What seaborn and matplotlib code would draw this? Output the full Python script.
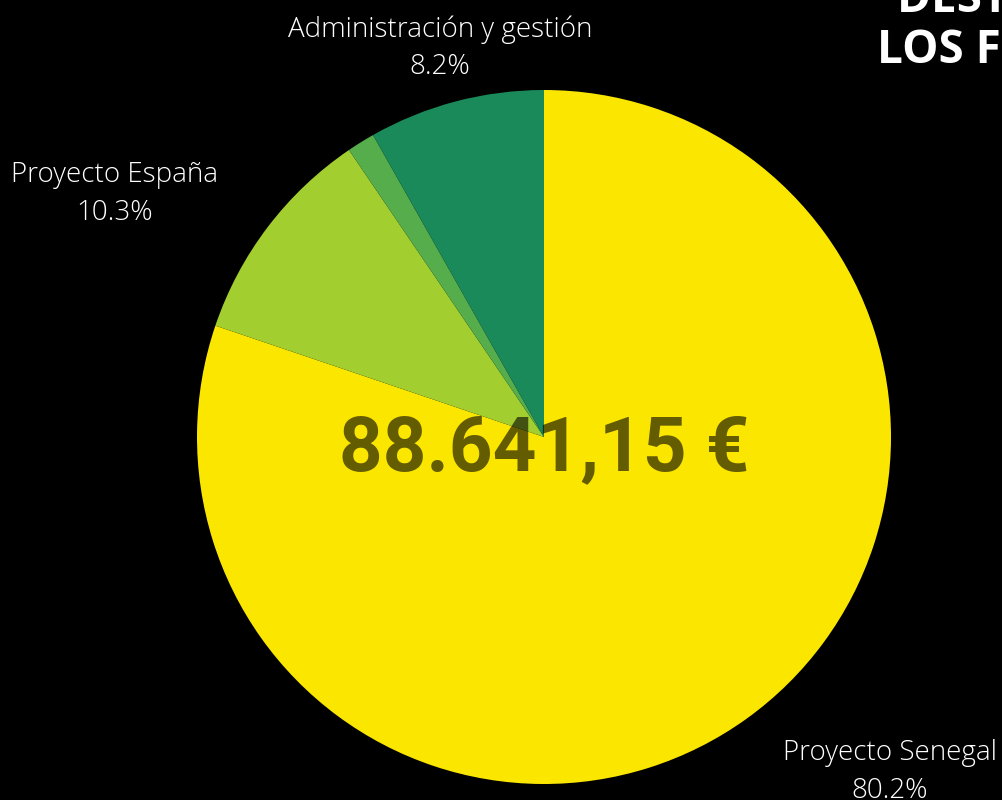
import matplotlib
matplotlib.use('Agg')
import matplotlib.pyplot as plt
import seaborn as sns

# Data
categories = ['Proyecto Senegal', 'Proyecto España', 'Otros', 'Administración y gestión']
shares = [80.2, 10.3, 1.3, 8.2]
colors = ['#FBE600', '#A3CE2F', '#55AE4B', '#1B8A5A']
show_label = [True, True, False, True]
total_text = '88.641,15 €'

sns.set_style('dark')
plt.rcParams['font.family'] = ['Open Sans', 'DejaVu Sans']

W, H = 1002, 800
fig = plt.figure(figsize=(W / 100, H / 100), dpi=100, facecolor='black')
ax = fig.add_axes([0, 0, 1, 1])
ax.set_facecolor('black')
ax.set_aspect('equal')
ax.axis('off')

wedges, _ = ax.pie(shares, colors=colors, startangle=90, counterclock=False,
                   center=(544, H - 437), radius=347,
                   wedgeprops=dict(linewidth=0))
ax.set_xlim(0, W)
ax.set_ylim(0, H)

# outside labels (pixel positions of label centres)
label_pos = {
    'Proyecto Senegal': (890, H - 772),
    'Proyecto España': (115, H - 194),
    'Administración y gestión': (440, H - 48),
}
for name, val, show in zip(categories, shares, show_label):
    if not show:
        continue
    x, y = label_pos[name]
    ax.text(x, y, f'{name}\n{val:.1f}%', ha='center', va='center',
            color='white', fontsize=20, fontweight='light', linespacing=1.45)

# total in the middle
ax.text(544, H - 450, total_text, ha='center', va='center', color='black',
        alpha=0.6, fontsize=55, fontweight='bold',
        family=['Roboto', 'DejaVu Sans'])

# title, cut by the right edge (as in the reference)
fig.text(897 / W, 1 - 12 / H, 'DESTINO DE', ha='left', va='baseline',
         color='white', fontsize=33, fontweight='bold')
fig.text(877 / W, 1 - 63 / H, 'LOS FONDOS', ha='left', va='baseline',
         color='white', fontsize=33, fontweight='bold')

fig.savefig('out.png', dpi=100, facecolor='black')
plt.close(fig)
